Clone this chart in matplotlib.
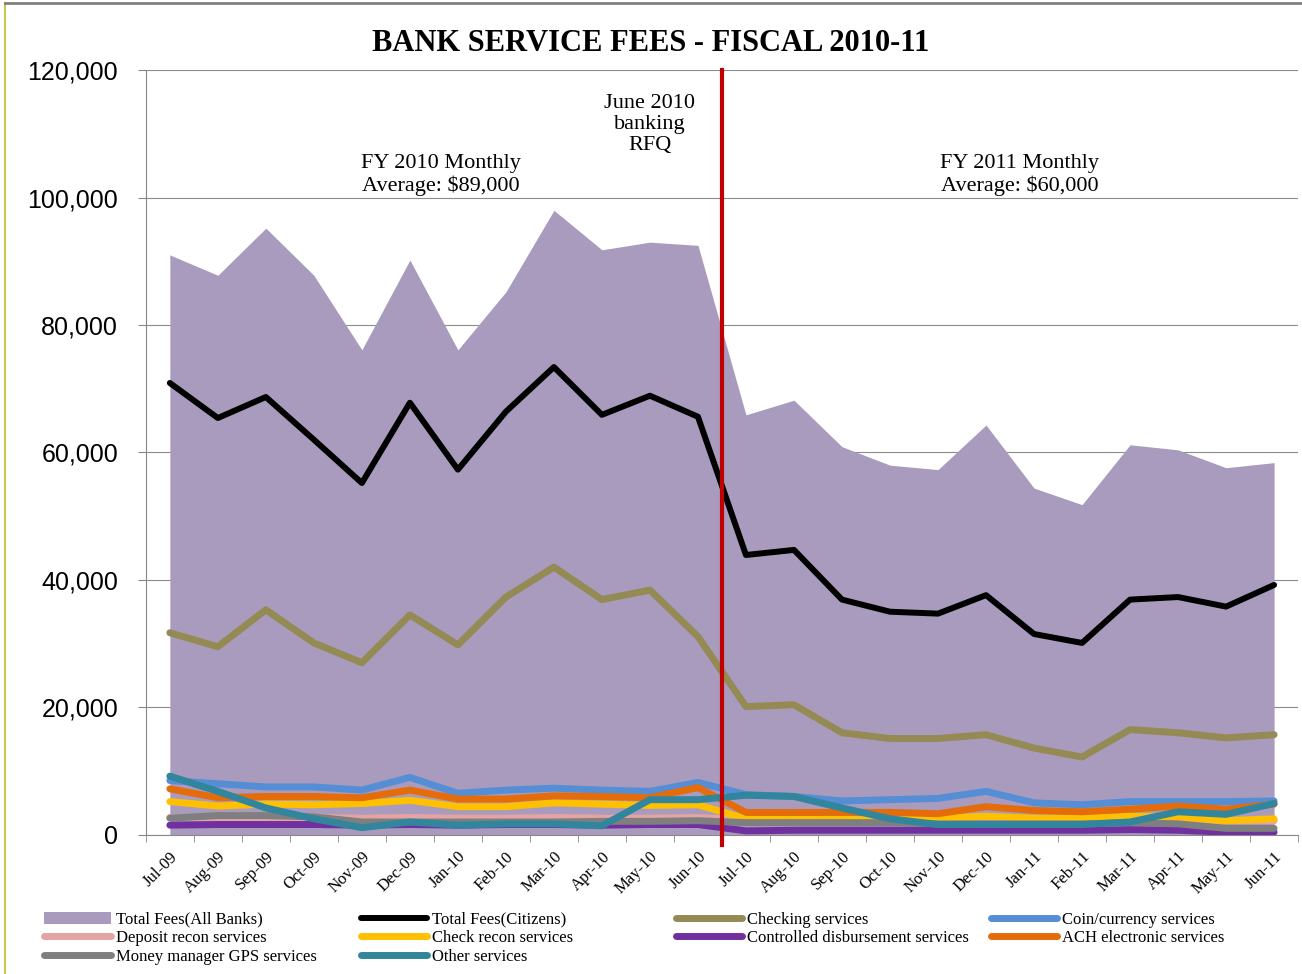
import numpy as np
import matplotlib.pyplot as plt
from matplotlib.patches import Patch

months = ['Jul-09', 'Aug-09', 'Sep-09', 'Oct-09', 'Nov-09', 'Dec-09', 'Jan-10', 'Feb-10',
          'Mar-10', 'Apr-10', 'May-10', 'Jun-10', 'Jul-10', 'Aug-10', 'Sep-10', 'Oct-10',
          'Nov-10', 'Dec-10', 'Jan-11', 'Feb-11', 'Mar-11', 'Apr-11', 'May-11', 'Jun-11']

total_all = [91000, 87800, 95200, 87800, 76100, 90200, 76100, 85200, 98000, 91800, 93000, 92500,
             65900, 68200, 60900, 58000, 57300, 64300, 54400, 51800, 61200, 60400, 57600, 58400]
total_citizens = [70900, 65400, 68700, 62000, 55200, 67800, 57300, 66400, 73400, 65900, 68900, 65600,
                  43900, 44700, 36900, 35000, 34700, 37600, 31500, 30100, 36900, 37300, 35800, 39200]
checking = [31700, 29500, 35300, 30100, 27000, 34500, 29800, 37300, 42000, 36900, 38400, 31100,
            20100, 20400, 16000, 15100, 15100, 15700, 13600, 12200, 16500, 16000, 15200, 15700]
coin = [8500, 8000, 7500, 7500, 7000, 9000, 6500, 7000, 7300, 7000, 6800, 8200,
        6300, 6000, 5300, 5500, 5700, 6800, 5000, 4700, 5200, 5200, 5200, 5300]
deposit = [2700, 2700, 2700, 2700, 2600, 2700, 2600, 2600, 2700, 2600, 2600, 2700,
           2300, 2300, 2300, 2300, 2300, 2300, 2300, 2300, 2300, 2300, 2200, 2200]
check_recon = [5200, 4500, 4800, 4700, 4900, 5400, 4400, 4400, 5000, 4800, 4600, 4700,
               2500, 2400, 2400, 2300, 2600, 2900, 2600, 2600, 2900, 2800, 2200, 2500]
controlled = [1500, 1600, 1600, 1600, 1500, 1600, 1500, 1600, 1600, 1500, 1600, 1600,
              600, 700, 700, 700, 700, 700, 700, 700, 800, 700, 400, 400]
ach = [7200, 5800, 6000, 6000, 5800, 7000, 5600, 5600, 6100, 6000, 5800, 7400,
       3500, 3500, 3500, 3500, 3300, 4400, 3800, 3600, 4000, 4500, 4000, 4800]
money_mgr = [2600, 3000, 3000, 2800, 2000, 2000, 2000, 2000, 2000, 2100, 2100, 2200,
             1900, 1900, 1900, 1900, 1700, 1700, 1700, 1700, 1900, 1700, 1000, 1000]
other = [9200, 6800, 4200, 2500, 1100, 2000, 1500, 1700, 1700, 1400, 5500, 5500,
         6200, 6000, 4200, 2500, 1600, 1600, 1600, 1600, 2000, 3600, 3200, 4900]

series = [
    ('Total Fees(Citizens)', total_citizens, '#000000'),
    ('Checking services', checking, '#948A54'),
    ('Coin/currency services', coin, '#558ED5'),
    ('Deposit recon services', deposit, '#E6A3A3'),
    ('Check recon services', check_recon, '#FFC000'),
    ('Controlled disbursement services', controlled, '#7030A0'),
    ('ACH electronic services', ach, '#E46C0A'),
    ('Money manager GPS services', money_mgr, '#7F7F7F'),
    ('Other services', other, '#31859C'),
]

serif = 'Liberation Serif'

fig = plt.figure(figsize=(13.02, 9.74), dpi=100)
ax = fig.add_axes([0.112, 0.143, 0.885, 0.785])

x = np.arange(len(months))
ax.fill_between(x, total_all, color='#A99BBD', zorder=1, linewidth=0)
handles = [Patch(facecolor='#A99BBD', label='Total Fees(All Banks)')]
for name, vals, col in series:
    lw = 4.3 if name == 'Total Fees(Citizens)' else 5
    h, = ax.plot(x, vals, color=col, lw=lw, label=name, zorder=3, solid_capstyle='round')
    handles.append(h)

# RFQ divider
ax.plot([11.5, 11.5], [-1600, 120000], color='#C00000', lw=3, zorder=5, clip_on=False)

ax.set_xlim(-0.5, 23.5)
ax.set_ylim(0, 120000)
ax.set_yticks(range(0, 120001, 20000))
ax.set_yticklabels(['{:,}'.format(v) for v in range(0, 120001, 20000)],
                   fontsize=18, family='Liberation Sans')
ax.set_xticks(x)
ax.set_xticklabels(months, rotation=45, ha='right', rotation_mode='anchor',
                   fontsize=12, family=serif)
ax.set_xticks(np.arange(-0.5, 24, 1), minor=True)
ax.tick_params(axis='x', which='major', length=0, pad=10)
ax.tick_params(axis='x', which='minor', length=5, color='#888888')
ax.tick_params(axis='y', length=6, color='#888888', pad=14)
ax.grid(axis='y', color='#8C8C8C', lw=0.8, zorder=0)
ax.set_axisbelow(True)
for s in ['top', 'right']:
    ax.spines[s].set_visible(False)
ax.spines['left'].set_color('#888888')
ax.spines['bottom'].set_color('#888888')

fig.text(0.5, 0.955, 'BANK SERVICE FEES - FISCAL 2010-11', fontsize=22, fontweight='bold',
         family=serif, ha='center', va='center')

ax.text(5.65, 103600, 'FY 2010 Monthly\nAverage: $89,000', ha='center', va='center',
        fontsize=16, family=serif, linespacing=1.15)
ax.text(10.0, 111500, 'June 2010\nbanking\nRFQ', ha='center', va='center',
        fontsize=16, family=serif, linespacing=1.15)
ax.text(17.7, 103600, 'FY 2011 Monthly\nAverage: $60,000', ha='center', va='center',
        fontsize=16, family=serif, linespacing=1.15)

# legend laid out row-wise in four fixed-width columns
col_x = [0.034, 0.277, 0.519, 0.761]
for c in range(4):
    idx = list(range(c, len(handles), 4))
    leg = fig.legend([handles[i] for i in idx], [handles[i].get_label() for i in idx],
                     loc='upper left', bbox_to_anchor=(col_x[c], 0.064), frameon=False,
                     prop={'family': serif, 'size': 12}, handlelength=4.0,
                     handletextpad=0.3, labelspacing=0.15, borderaxespad=0, borderpad=0)

# outer chart frame
fig.add_artist(plt.Line2D([0.004, 0.004], [0, 0.997], color='#C8C850', lw=1.5))
fig.add_artist(plt.Line2D([0.004, 1], [0.997, 0.997], color='#808080', lw=2))

fig.savefig('out.png', dpi=100)
